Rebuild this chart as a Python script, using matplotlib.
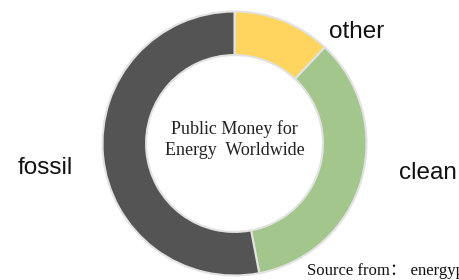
import matplotlib.pyplot as plt

labels = ["other", "clean", "fossil"]
shares = [12, 35, 53]
colors = ["#FFD55F", "#A2C68B", "#545454"]

fig = plt.figure(figsize=(4.6, 2.8), dpi=100)
# donut centred at about (234, 143) px, radius ~132 px
ax = fig.add_axes([(234.5 - 132) / 460, (280 - 143.5 - 132) / 280, 264 / 460, 264 / 280])
ax.pie(shares, colors=colors, startangle=90, counterclock=False, radius=1,
       wedgeprops=dict(width=0.33, edgecolor="#e2e2e2", linewidth=1.5))
ax.set_xlim(-1, 1)
ax.set_ylim(-1, 1)
ax.set_aspect("equal")
ax.axis("off")

ax.text(0, 0.03, "Public Money for\nEnergy  Worldwide", ha="center", va="center",
        fontsize=13, family="Liberation Serif", linespacing=1.3, color="#222222")

# slice labels
label_pos = {"other": (357, 32), "clean": (428, 173), "fossil": (45, 168)}
for name in labels:
    x, y = label_pos[name]
    fig.text(x / 460, 1 - y / 280, name, ha="center", va="center",
             fontsize=17.5, family="Liberation Sans", color="#111111")

# source line runs off the right edge, as in the original
fig.text(307 / 460, 1 - 271 / 280, "Source from： energypolicytracker.org",
         ha="left", va="center", fontsize=12,
         family=["Liberation Serif", "Noto Sans CJK SC"], color="#111111")

fig.savefig("out.png", dpi=100)
